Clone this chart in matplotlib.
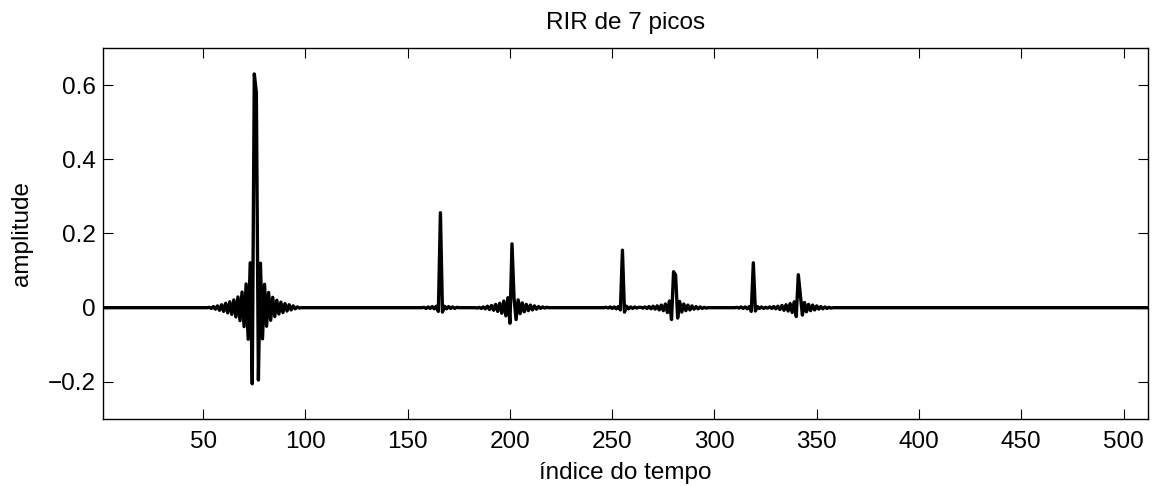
# RIR with 7 peaks, rebuilt sample by sample from the figure
import numpy as np
import matplotlib
matplotlib.use('Agg')
import matplotlib.pyplot as plt

#%% Data: start index of each peak cluster and the sample values

n_samples = 512

peak1_start = 53
peak1 = [0.001, -0.002, 0.003, -0.004, 0.005, -0.007, 0.008, -0.010, 0.012, -0.014,
         0.016, -0.018, 0.021, -0.025, 0.029, -0.035, 0.042, -0.051, 0.064, -0.085,
         0.121, -0.205, 0.630, 0.580, -0.195, 0.120, -0.084, 0.063, -0.050, 0.041,
         -0.034, 0.028, -0.024, 0.020, -0.017, 0.015, -0.013, 0.011, -0.009, 0.008,
         -0.006, 0.005, -0.003, 0.002, -0.001]

peak2_start = 158
peak2 = [0.001, -0.002, 0.002, -0.002, 0.003, -0.003, 0.004, -0.010, 0.256, -0.012,
         0.004, -0.003, 0.003, -0.002, 0.002, -0.002, 0.001]

peak3_start = 184
peak3 = [-0.001, 0.001, -0.002, 0.002, -0.003, 0.004, -0.005, 0.006, -0.007, 0.009,
         -0.010, 0.012, -0.015, 0.018, -0.022, 0.027, -0.042, 0.172, 0.025, -0.032,
         0.021, -0.016, 0.013, -0.011, 0.009, -0.008, 0.007, -0.006, 0.005, -0.004,
         0.003, -0.002, 0.002, -0.001, 0.001]

peak4_start = 247
peak4 = [0.001, -0.001, 0.002, -0.002, 0.002, -0.003, 0.003, -0.006, 0.155, -0.012,
         0.004, -0.003, 0.002, -0.002, 0.002, -0.001, 0.001]

peak5_start = 264
peak5 = [0.001, -0.001, 0.002, -0.002, 0.003, -0.003, 0.004, -0.004, 0.005, -0.006,
         0.007, -0.008, 0.010, -0.013, 0.018, -0.032, 0.097, 0.088, -0.028, 0.017,
         -0.012, 0.010, -0.008, 0.007, -0.006, 0.005, -0.004, 0.003, -0.003, 0.002,
         -0.002, 0.001, -0.001]

peak6_start = 311
peak6 = [0.001, -0.001, 0.002, -0.002, 0.002, -0.003, 0.003, -0.010, 0.121, -0.009,
         0.003, -0.002, 0.002, -0.002, 0.001, -0.001, 0.001]

peak7_start = 325
peak7 = [0.001, -0.001, 0.002, -0.002, 0.003, -0.003, 0.004, -0.005, 0.006, -0.007,
         0.008, -0.009, 0.011, -0.013, 0.016, -0.024, 0.089, 0.035, -0.020, 0.014,
         -0.011, 0.009, -0.008, 0.007, -0.006, 0.005, -0.004, 0.003, -0.003, 0.002,
         -0.002, 0.001, -0.001]

xtick_vals = [50, 100, 150, 200, 250, 300, 350, 400, 450, 500]
ytick_vals = [-0.2, 0, 0.2, 0.4, 0.6]
ytick_labels = ['\u22120.2', '0', '0.2', '0.4', '0.6']

#%% Build the signal (zeros outside the clusters)
n = np.arange(1, n_samples + 1)
rir = np.zeros(n_samples)
for start, vals in [(peak1_start, peak1), (peak2_start, peak2), (peak3_start, peak3),
                    (peak4_start, peak4), (peak5_start, peak5), (peak6_start, peak6),
                    (peak7_start, peak7)]:
    rir[start - 1:start - 1 + len(vals)] = vals

#%% Plot
plt.rcParams['font.family'] = ['Liberation Sans', 'DejaVu Sans']
fs = 17.5

fig = plt.figure(figsize=(11.53, 4.86), dpi=100)
ax = fig.add_axes([0.0893, 0.1379, 0.9064, 0.7633])
ax.plot(n, rir, color='black', linewidth=2.4)

ax.set_xlim(1, n_samples)
ax.set_ylim(-0.3, 0.7)
ax.set_xticks(xtick_vals)
ax.set_yticks(ytick_vals)
ax.set_yticklabels(ytick_labels)
ax.tick_params(direction='in', length=7, width=0.8, top=True, right=True,
               labelsize=fs)
ax.tick_params(axis='x', pad=9)
ax.tick_params(axis='y', pad=5)
for sp in ax.spines.values():
    sp.set_linewidth(1.0)

ax.set_title('RIR de 7 picos', fontsize=fs, pad=14)
ax.set_xlabel('índice do tempo', fontsize=fs, labelpad=6)
ax.set_ylabel('amplitude', fontsize=fs, labelpad=11)

fig.savefig('out.png', dpi=100)
